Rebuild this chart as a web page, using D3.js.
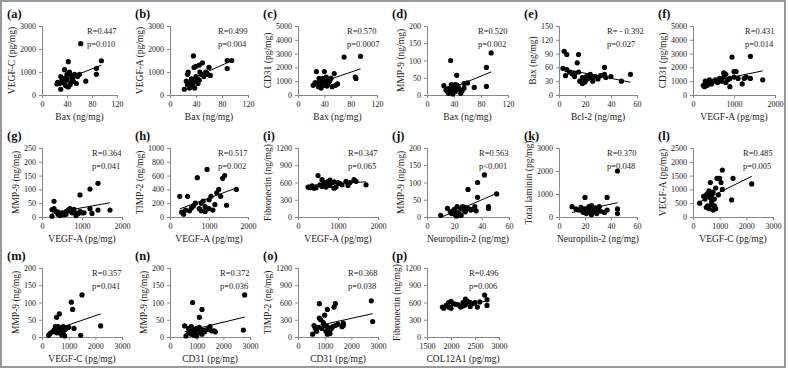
<!DOCTYPE html>
<html>
<head>
<meta charset="utf-8">
<script src="https://cdn.jsdelivr.net/npm/d3@7"></script>
<style>
  body { margin: 0; background: #fff; }
  svg { display: block; }
</style>
</head>
<body>
<div id="chart"></div>
<script>
// points, [x, y]
const ptsA = [[62,2230],[95,1490],[42,1450],[87,1150],[87,900],[70,600],[36,1100],[30,800],[33,700],[25,550],[28,500],[24,480],[30,250],[35,600],[38,750],[40,900],[44,1000],[46,850],[48,700],[50,600],[52,900],[45,450],[42,350],[38,400],[55,500],[57,800],[60,900],[32,650],[47,550],[40,650],[36,500],[50,800]];
const ptsB = [[22,250],[25,600],[27,900],[28,1000],[30,300],[30,500],[32,350],[33,700],[35,400],[36,1700],[37,1200],[38,600],[40,1250],[40,800],[42,700],[43,500],[45,1300],[46,1000],[48,900],[50,1400],[52,800],[55,1000],[58,900],[60,1200],[62,850],[88,1500],[95,1500],[88,1150],[35,550],[45,650],[38,300],[27,450]];
const ptsC = [[23,700],[26,900],[28,1700],[30,800],[31,600],[33,1000],[34,750],[35,1100],[36,900],[38,1200],[39,700],[40,1700],[41,1000],[42,800],[43,1300],[44,650],[45,1100],[46,900],[48,1000],[50,1200],[52,600],[55,1550],[57,700],[60,800],[70,2750],[87,1300],[88,1200],[95,2800],[35,500],[45,750],[32,1200]];
const ptsD = [[95,122],[88,80],[88,25],[35,100],[44,57],[70,22],[60,35],[55,33],[25,27],[28,15],[30,10],[32,5],[34,20],[36,30],[38,25],[40,15],[42,10],[44,20],[46,25],[48,15],[50,5],[52,12],[30,18],[33,8],[38,3],[40,22],[45,28],[55,20],[35,12],[42,30],[47,18]];
const ptsE = [[3,58],[4,95],[5,42],[6,88],[6,55],[8,50],[10,46],[12,47],[14,70],[15,88],[15,50],[16,30],[18,25],[18,38],[20,32],[21,40],[22,35],[24,45],[25,38],[26,30],[28,40],[30,35],[32,42],[35,60],[35,45],[36,38],[40,40],[48,30],[55,45],[20,28],[12,40]];
const ptsF = [[950,2750],[1400,2800],[1700,1100],[1400,1200],[1200,800],[1000,1700],[1050,1700],[800,1500],[750,1600],[900,600],[250,700],[280,600],[300,1000],[350,900],[400,1100],[450,800],[500,1000],[550,1100],[600,900],[650,1200],[700,1000],[750,1300],[800,900],[850,1100],[900,1200],[1000,1300],[1100,1200],[1300,1300],[1250,1200],[350,700],[600,1000]];
const ptsG = [[1400,122],[1200,101],[950,80],[300,57],[1700,25],[1400,25],[1250,13],[1200,30],[250,27],[300,30],[350,20],[400,10],[450,5],[500,15],[550,8],[600,20],[650,25],[700,30],[750,15],[800,20],[850,5],[900,12],[950,20],[1000,15],[1050,15],[250,3],[700,22],[600,10],[400,18],[800,28]];
const ptsH = [[250,300],[300,70],[350,40],[400,100],[450,300],[500,90],[550,130],[600,160],[700,570],[750,120],[800,200],[850,230],[900,150],[950,690],[1000,250],[1050,300],[1100,100],[1150,180],[1200,350],[1250,400],[1300,300],[1350,560],[1400,600],[1450,170],[1700,400],[1000,120],[650,200],[900,80],[800,90]];
const ptsI = [[250,520],[300,510],[350,540],[400,500],[450,510],[500,720],[550,560],[600,650],[650,600],[700,580],[750,620],[800,550],[850,600],[900,500],[950,520],[1000,600],[1050,580],[1100,560],[1200,620],[1250,550],[1300,600],[1400,650],[1450,620],[1700,560],[700,520],[900,610],[600,530],[800,640]];
const ptsJ = [[10,5],[15,25],[17,15],[18,10],[19,18],[20,22],[21,5],[22,30],[23,12],[24,8],[25,25],[26,30],[27,20],[28,15],[30,80],[30,25],[32,20],[35,30],[36,18],[37,100],[37,57],[42,122],[45,25],[45,30],[51,67],[20,12],[25,5],[28,28],[33,22],[22,3]];
const ptsK = [[10,450],[13,350],[15,300],[17,420],[18,250],[19,200],[20,850],[20,350],[21,150],[22,300],[23,450],[24,250],[25,500],[26,200],[27,350],[28,400],[29,150],[30,300],[31,450],[32,250],[35,200],[37,850],[37,300],[45,2000],[45,350],[45,150],[22,200],[25,100]];
const ptsL = [[250,500],[400,750],[450,650],[500,350],[500,800],[550,400],[550,850],[600,950],[600,300],[650,1250],[650,700],[700,550],[700,800],[750,900],[750,250],[800,400],[800,650],[850,1050],[850,300],[900,1400],[950,800],[1000,1400],[1050,1250],[1100,1700],[1100,1000],[1500,1400],[1450,620],[2200,1200],[600,750],[700,450]];
const ptsM = [[1500,122],[1100,101],[1150,80],[650,67],[550,57],[2200,32],[1450,5],[1200,25],[1000,28],[250,5],[300,10],[400,15],[450,20],[500,30],[550,25],[600,20],[650,15],[700,10],[750,5],[800,30],[850,20],[900,25],[700,22],[600,30],[550,12],[800,8],[500,18],[750,28],[850,3]];
const ptsN = [[850,100],[1200,80],[1100,57],[2800,122],[2750,20],[1700,15],[1650,18],[550,32],[600,3],[700,25],[750,20],[800,30],[850,15],[900,5],[950,10],[1000,25],[1050,20],[1100,28],[1150,12],[1200,8],[1250,20],[1300,15],[1400,22],[1500,30],[1550,18],[800,8],[900,22],[1000,3],[700,12]];
const ptsO = [[2750,630],[2800,270],[800,580],[1100,480],[1350,520],[1400,580],[1000,380],[800,330],[850,300],[600,200],[550,50],[700,100],[900,150],[1000,200],[1050,100],[1100,50],[1150,80],[1200,120],[1250,150],[1300,180],[1400,200],[1500,220],[1650,180],[1700,240],[1700,200],[750,170],[950,250],[1100,180],[1200,60],[650,150]];
const ptsP = [[1820,520],[1850,500],[1900,550],[1950,600],[2000,620],[2000,500],[2050,580],[2100,570],[2150,560],[2200,520],[2250,540],[2300,660],[2300,560],[2350,620],[2400,600],[2400,530],[2450,580],[2500,600],[2550,520],[2700,730],[2750,650],[2750,550],[2600,610],[2250,600],[1950,520]];

const panelIds = ["a","b","c","d","e","f","g","h","i","j","k","l","m","n","o","p"];
const xTitles = ["Bax (ng/mg)","Bax (ng/mg)","Bax (ng/mg)","Bax (ng/mg)","Bcl-2 (ng/mg)","VEGF-A (pg/mg)",
  "VEGF-A (pg/mg)","VEGF-A (pg/mg)","VEGF-A (pg/mg)","Neuropilin-2 (ng/mg)","Neuropilin-2 (ng/mg)","VEGF-C (pg/mg)",
  "VEGF-C (pg/mg)","CD31 (pg/mg)","CD31 (pg/mg)","COL12A1 (pg/mg)"];
const yTitles = ["VEGF-C (pg/mg)","VEGF-A (pg/mg)","CD31 (pg/mg)","MMP-9 (ng/mg)","Bax (ng/mg)","CD31 (pg/mg)",
  "MMP-9 (ng/mg)","TIMP-2 (ng/mg)","Fibronectin (ng/mg)","MMP-9 (ng/mg)","Total laminin (pg/mg)","VEGF-A (pg/mg)",
  "MMP-9 (ng/mg)","MMP-9 (ng/mg)","TIMP-2 (ng/mg)","Fibronectin (ng/mg)"];
const rLabels = ["R=0.447","R=0.499","R=0.570","R=0.520","R= - 0.392","R=0.431","R=0.364","R=0.517",
  "R=0.347","R=0.563","R=0.370","R=0.485","R=0.357","R=0.372","R=0.368","R=0.496"];
const pLabels = ["p=0.010","p=0.004","p=0.0007","p=0.002","p=0.027","p=0.014","p=0.041","p=0.002",
  "p=0.065","p<0.001","p=0.048","p=0.005","p=0.041","p=0.036","p=0.038","p=0.006"];
const xTicks = [[0,40,80,120],[0,40,80,120],[0,40,80,120],[0,40,80,120],[0,20,40,60],[0,1000,2000],
  [0,1000,2000],[0,1000,2000],[0,1000,2000],[0,20,40,60],[0,20,40,60],[0,1000,2000,3000],
  [0,1000,2000,3000],[0,1000,2000,3000],[0,1000,2000,3000],[1500,2000,2500,3000]];
const yTicks = [[0,1000,2000,3000],[0,1000,2000,3000],[0,1000,2000,3000,4000,5000],[0,50,100,150,200],
  [0,30,60,90,120,150],[0,1000,2000,3000,4000,5000],[0,50,100,150,200,250],[0,200,400,600,800,1000],
  [0,300,600,900,1200],[0,50,100,150,200],[0,1000,2000,3000],[0,500,1000,1500,2000,2500],
  [0,50,100,150,200],[0,50,100,150,200],[0,300,600,900,1200],[0,300,600,900,1200]];
const allPts = [ptsA,ptsB,ptsC,ptsD,ptsE,ptsF,ptsG,ptsH,ptsI,ptsJ,ptsK,ptsL,ptsM,ptsN,ptsO,ptsP];

// layout
const canvasWidth = 789, canvasHeight = 370;
const colX = [42, 170, 298, 427, 559, 693];
const rowY = [26, 148, 268];
const plotW = [75,78,79,81,78,82, 80,78,80,82,78,80, 80,80,80,72];
const plotH = 69;
const serif = "'Liberation Serif','Times New Roman',serif";

const svg = d3.select("#chart").append("svg")
    .attr("width", canvasWidth)
    .attr("height", canvasHeight)
    .style("font-family", serif);

// outer frame
svg.append("rect")
    .attr("x", 1).attr("y", 1)
    .attr("width", 784).attr("height", 366)
    .attr("fill", "none")
    .attr("stroke", "#999")
    .attr("stroke-width", 2);

panelIds.forEach((id, i) => {
    const x0 = colX[i % 6], y0 = rowY[Math.floor(i / 6)];
    const w = plotW[i];
    const data = allPts[i];
    const xt = xTicks[i], yt = yTicks[i];

    const x = d3.scaleLinear().domain([xt[0], xt[xt.length - 1]]).range([0, w]);
    const y = d3.scaleLinear().domain([yt[0], yt[yt.length - 1]]).range([plotH, 0]);

    const g = svg.append("g").attr("transform", `translate(${x0},${y0})`);

    // panel letter
    g.append("text")
        .attr("x", -35).attr("y", -8)
        .attr("font-size", 12.5)
        .attr("font-weight", "bold")
        .attr("fill", "#111")
        .text(`(${id})`);

    const yAxis = g.append("g")
        .call(d3.axisLeft(y).tickValues(yt).tickSize(3).tickPadding(3).tickFormat(d3.format("d")));
    const xAxis = g.append("g")
        .attr("transform", `translate(0,${plotH})`)
        .call(d3.axisBottom(x).tickValues(xt).tickSize(3).tickPadding(3).tickFormat(d3.format("d")));

    [yAxis, xAxis].forEach(ax => {
        ax.select(".domain").attr("stroke", "#888");
        ax.selectAll(".tick line").attr("stroke", "#888");
        ax.selectAll(".tick text").attr("font-size", 8).attr("fill", "#222").attr("font-family", serif);
    });

    const labW = yAxis.node().getBBox().width;

    g.append("text")
        .attr("transform", `translate(${-labW - 5},${plotH / 2}) rotate(-90)`)
        .attr("text-anchor", "middle")
        .attr("font-size", 9.5)
        .attr("fill", "#222")
        .text(yTitles[i]);

    g.append("text")
        .attr("x", w / 2).attr("y", plotH + 25)
        .attr("text-anchor", "middle")
        .attr("font-size", 9.5)
        .attr("fill", "#222")
        .text(xTitles[i]);

    // least squares trend line
    const mx = d3.mean(data, d => d[0]), my = d3.mean(data, d => d[1]);
    const slope = d3.sum(data, d => (d[0] - mx) * (d[1] - my)) / d3.sum(data, d => (d[0] - mx) ** 2);
    const [xmin, xmax] = d3.extent(data, d => d[0]);
    const fit = v => my + slope * (v - mx);
    g.append("line")
        .attr("x1", x(xmin)).attr("y1", y(fit(xmin)))
        .attr("x2", x(xmax)).attr("y2", y(fit(xmax)))
        .attr("stroke", "#000")
        .attr("stroke-width", 1);

    g.selectAll("circle")
        .data(data)
        .join("circle")
        .attr("cx", d => x(d[0]))
        .attr("cy", d => y(d[1]))
        .attr("r", 2.6)
        .attr("fill", "#000");

    g.append("text")
        .attr("x", w - 30).attr("y", 8)
        .attr("font-size", 8.5)
        .attr("fill", "#222")
        .text(rLabels[i]);
    g.append("text")
        .attr("x", w - 30).attr("y", 21)
        .attr("font-size", 8.5)
        .attr("fill", "#222")
        .text(pLabels[i]);
});
</script>
</body>
</html>
